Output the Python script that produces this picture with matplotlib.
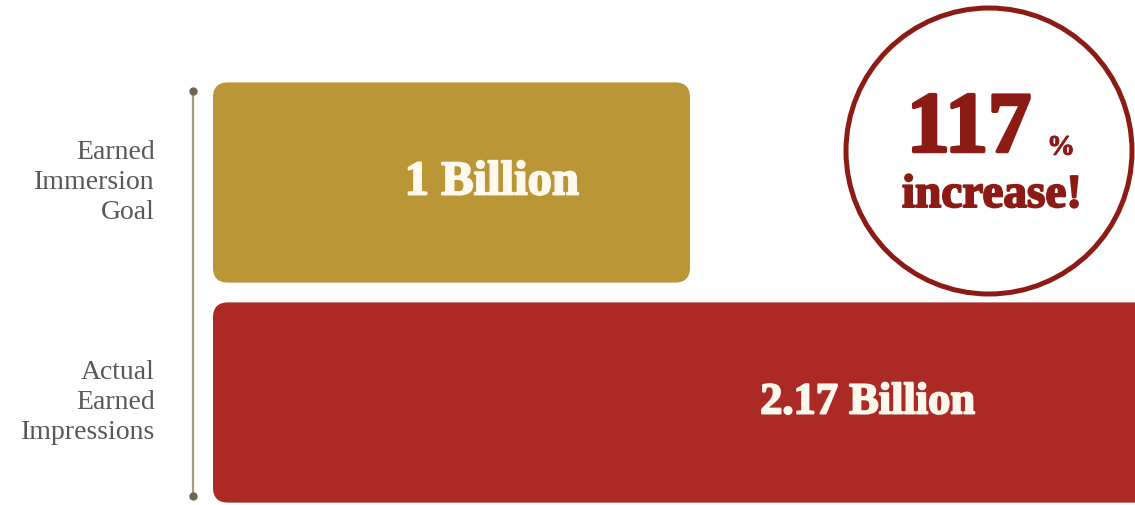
import matplotlib.pyplot as plt
import matplotlib.patheffects as pe
from matplotlib.patches import FancyBboxPatch, Circle

categories = ["Actual\nEarned\nImpressions", "Earned\nImmersion\nGoal"]
values = [2.17, 1.0]            # billions
value_labels = ["2.17 Billion", "1 Billion"]
increase_pct = 117

colors = ["#ab2a26", "#ba9637"]
dark_red = "#8c1b15"
cream = "#fff8ec"

W, H, DPI = 1135, 505, 100
fig = plt.figure(figsize=(W / DPI, H / DPI), dpi=DPI)
fig.patch.set_facecolor("white")

# bar area: left edge of bars at 213px, runs to the right border
ax = fig.add_axes([213 / W, 1.3 / H, 922 / W, 431.2 / H])
xmax = 1.933
ax.set_xlim(0, xmax)
ax.set_ylim(-0.46, 1.5)
ax.axis("off")

px_x = xmax / 922          # data units per pixel, x
px_y = 1.96 / 431.2        # data units per pixel, y
bar_h = 0.91
label_x = [1.373, 0.585]
label_size = [33, 36]


def heavy(color, w):
    # fake a fatter face by stroking the glyph outline
    return [pe.withStroke(linewidth=w, foreground=color)]


for i, (v, c) in enumerate(zip(values, colors)):
    box = FancyBboxPatch((0, i - bar_h / 2), v, bar_h,
                         boxstyle="round,pad=0,rounding_size=%f" % (15 * px_x),
                         mutation_aspect=px_y / px_x,
                         fc=c, ec="none")
    ax.add_patch(box)
    ax.text(label_x[i], i, value_labels[i], ha="center", va="center",
            color=cream, fontsize=label_size[i] - 1, fontweight="bold",
            family="Liberation Serif", path_effects=heavy(cream, 1.4))
    ax.text(-58 * px_x, i, categories[i], ha="right", va="center",
            color="#585858", fontsize=20, family="Liberation Serif",
            linespacing=1.25, clip_on=False)

# thin guide line with dots at both ends
gx = -20 * px_x
ax.plot([gx, gx], [-0.425, 1.416], color="#a39c7c", lw=1.6, clip_on=False)
ax.plot([gx, gx], [-0.425, 1.416], "o", color="#6f6650", ms=5, clip_on=False)

# callout circle
circ = Circle((9.89, (H - 151) / DPI), 1.43, transform=fig.dpi_scale_trans,
              fill=False, ec=dark_red, lw=3.6)
fig.add_artist(circ)
fig.text(969 / W, 1 - 131 / H, str(increase_pct), ha="center", va="center",
         color=dark_red, fontsize=62, fontweight="bold", family="Liberation Serif",
         path_effects=heavy(dark_red, 2.5))
fig.text(1061 / W, 1 - 148 / H, "%", ha="center", va="center",
         color=dark_red, fontsize=20, fontweight="bold", family="Liberation Serif",
         path_effects=heavy(dark_red, 0.8))
fig.text(992 / W, 1 - 196 / H, "increase!", ha="center", va="center",
         color=dark_red, fontsize=34, fontweight="bold", family="Liberation Serif",
         path_effects=heavy(dark_red, 1.4))

fig.savefig("out.png", dpi=DPI)
